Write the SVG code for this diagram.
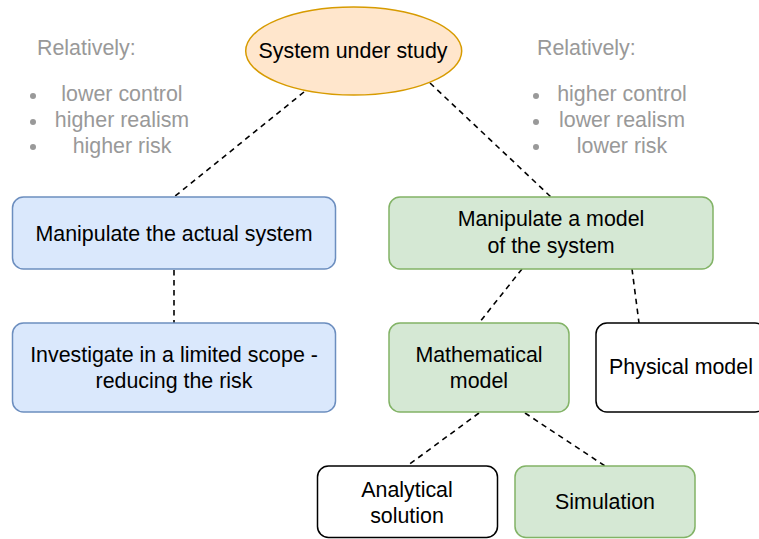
<svg xmlns="http://www.w3.org/2000/svg" width="759" height="539" viewBox="0 0 759 539">
<style>
text{font-family:"Liberation Sans",Arial,sans-serif;font-size:21.4px;text-anchor:middle;fill:#000}
.g{fill:#999999}
.l{text-anchor:start}
.blue{fill:#dae8fc;stroke:#6c8ebf;stroke-width:1.5}
.green{fill:#d5e8d4;stroke:#82b366;stroke-width:1.5}
.white{fill:#ffffff;stroke:#000000;stroke-width:1.5}
.conn line{stroke:#000;stroke-width:1.6;stroke-dasharray:5.5 4.5;fill:none}
.dot{fill:#999999}
</style>
<rect width="759" height="539" fill="#ffffff"/>
<g id="connectors" class="conn">
<line x1="304" y1="92" x2="174" y2="197"/>
<line x1="430" y1="83" x2="551" y2="197"/>
<line x1="174" y1="270" x2="174" y2="323"/>
<line x1="522" y1="269" x2="479" y2="323"/>
<line x1="632" y1="269" x2="639" y2="323"/>
<line x1="479" y1="413" x2="407" y2="466"/>
<line x1="525" y1="413" x2="605" y2="466"/>
</g>
<g id="notes-left">
<text class="g l" x="37" y="55">Relatively:</text>
<circle class="dot" cx="33" cy="96" r="3"/>
<circle class="dot" cx="33" cy="122" r="3"/>
<circle class="dot" cx="33" cy="147" r="3"/>
<text class="g" x="122" y="101">lower control</text>
<text class="g" x="122" y="127">higher realism</text>
<text class="g" x="122" y="152.5">higher risk</text>
</g>
<g id="notes-right">
<text class="g l" x="537" y="55">Relatively:</text>
<circle class="dot" cx="536" cy="96" r="3"/>
<circle class="dot" cx="536" cy="122" r="3"/>
<circle class="dot" cx="536" cy="147" r="3"/>
<text class="g" x="622" y="101">higher control</text>
<text class="g" x="622" y="127">lower realism</text>
<text class="g" x="622" y="152.5">lower risk</text>
</g>
<g id="system">
<ellipse cx="353.7" cy="51" rx="108" ry="44" fill="#ffe6cc" stroke="#d79b00" stroke-width="1.5"/>
<text x="353" y="57.5">System under study</text>
</g>
<g id="actual">
<rect class="blue" x="12.5" y="197" width="323" height="72" rx="11"/>
<text x="174" y="240.5">Manipulate the actual system</text>
</g>
<g id="limited">
<rect class="blue" x="12.5" y="323" width="323" height="89" rx="11"/>
<text x="174" y="362">Investigate in a limited scope -</text>
<text x="174" y="388">reducing the risk</text>
</g>
<g id="model">
<rect class="green" x="389" y="197" width="324" height="72" rx="11"/>
<text x="551" y="226">Manipulate a model</text>
<text x="551" y="252.5">of the system</text>
</g>
<g id="math">
<rect class="green" x="389" y="323" width="180" height="89" rx="11"/>
<text x="479" y="362">Mathematical</text>
<text x="479" y="388">model</text>
</g>
<g id="physical">
<rect class="white" x="596" y="323" width="170" height="89" rx="11"/>
<text x="681" y="373.5">Physical model</text>
</g>
<g id="analytical">
<rect class="white" x="317.5" y="466" width="180" height="71.5" rx="11"/>
<text x="407" y="496.5">Analytical</text>
<text x="407" y="522.5">solution</text>
</g>
<g id="simulation">
<rect class="green" x="515" y="466" width="180" height="71.5" rx="11"/>
<text x="605" y="509">Simulation</text>
</g>
</svg>
